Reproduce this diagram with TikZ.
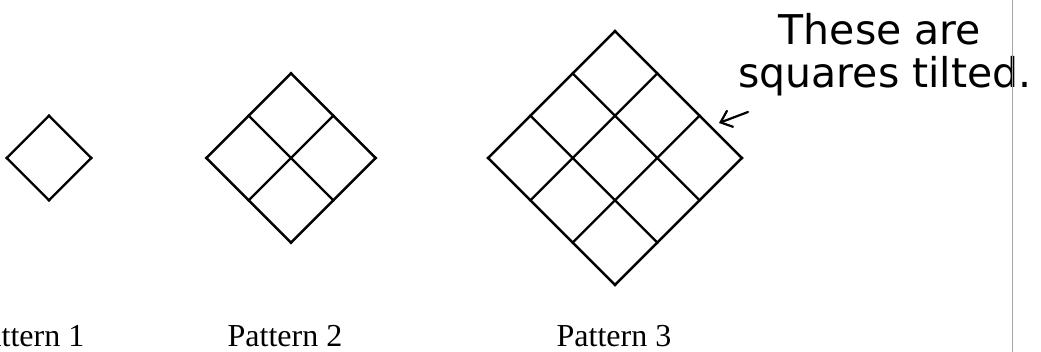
\documentclass[tikz,border=0pt]{standalone}
\usepackage{fontspec}
\setmainfont{Liberation Serif}
\newfontfamily\handfont{DejaVu Sans}
\usepackage{tikz}
\usetikzlibrary{positioning,arrows.meta}
\newcommand{\cellside}{59.8}
% tilted grid: centre x, centre y, cells per side
\newcommand{\tiltgrid}[3]{%
  \begin{scope}[shift={(#1,#2)},rotate=45]
    \foreach \k in {0,...,#3}{
      \draw[tile] ({(\k-#3/2)*\cellside},{-#3/2*\cellside}) -- ({(\k-#3/2)*\cellside},{#3/2*\cellside});
      \draw[tile] ({-#3/2*\cellside},{(\k-#3/2)*\cellside}) -- ({#3/2*\cellside},{(\k-#3/2)*\cellside});
    }
  \end{scope}}

\begin{document}
\begin{tikzpicture}[
    x=1pt,y=-1pt,
    tile/.style={line width=2.4pt,line cap=rect},
    patlabel/.style={font=\fontsize{32}{36}\selectfont,anchor=base,inner sep=0pt},
    hand/.style={font=\handfont\fontsize{41}{46}\selectfont,anchor=base,inner sep=0pt}
]
\useasboundingbox (0,0) rectangle (1041,352);

\tiltgrid{49}{158}{1}
\tiltgrid{291}{158}{2}
\tiltgrid{615}{158}{3}

\node[patlabel] (lab1) at (27,347) {Pattern 1};
\node[patlabel] (lab2) at (285,347) {Pattern 2};
\node[patlabel] (lab3) at (614,347) {Pattern 3};

\node[hand] (note1) at (880,45) {These are};
\node[hand] (note2) at (885,88) {squares tilted.};

\coordinate (tail) at (748,112);
\coordinate (tip) at (719,123);
\draw[line width=2.2pt,line cap=round,-{Straight Barb[length=10pt,width=17pt,line cap=round]}] (tail) -- (tip);

\draw[gray!70,line width=1pt] (1012,0) -- (1012,352);
\end{tikzpicture}
\end{document}
